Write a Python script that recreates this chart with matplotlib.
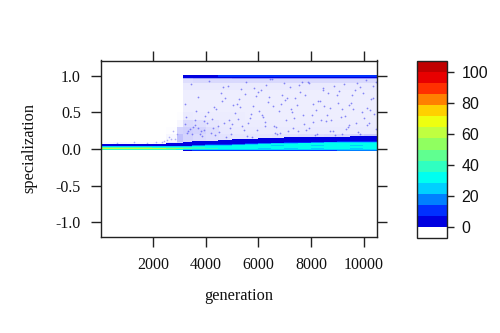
import matplotlib
matplotlib.use("Agg")
import matplotlib.pyplot as plt
import numpy as np
from matplotlib.colors import ListedColormap, BoundaryNorm, LinearSegmentedColormap

generation_edges = [10, 500, 1000, 1500, 2000, 2500, 2900, 3140, 3500, 4000, 4500, 5000,
                    5500, 6000, 6500, 7000, 7500, 8000, 8500, 9000, 9500, 10000, 10500]
band_edges = [-0.01364, 0.0, 0.01364, 0.02727, 0.04091, 0.05455, 0.06818, 0.08182, 0.09545, 0.10909,
              0.12273, 0.13636, 0.15, 0.16364, 0.17727, 0.19091]
# counts per generation bin, bottom row first
band_counts = [
    [0, 0, 0, 0, 0, 0, 0, 6, 8, 9, 10, 12, 12, 13, 13, 14, 14, 14, 14, 15, 15, 15],
    [38, 38, 38, 38, 36, 36, 34, 26, 24, 24, 24, 24, 24, 24, 24, 24, 24, 24, 24, 24, 24, 24],
    [62, 64, 62, 64, 60, 56, 54, 46, 40, 36, 34, 30, 30, 27, 30, 27, 30, 27, 30, 30, 27, 30],
    [44, 44, 44, 44, 42, 40, 40, 38, 36, 34, 33, 33, 33, 30, 33, 33, 30, 33, 33, 30, 33, 33],
    [28, 28, 28, 28, 28, 26, 26, 28, 30, 31, 31, 32, 32, 33, 33, 30, 33, 33, 33, 30, 33, 33],
    [4, 4, 4, 4, 3, 4, 4, 6, 18, 24, 27, 29, 30, 31, 27, 32, 32, 27, 32, 33, 27, 33],
    [0, 0, 0, 0, 0, 1, 3, 3, 4, 9, 14, 20, 26, 29, 30, 30, 29, 31, 32, 29, 32, 32],
    [0, 0, 0, 0, 0, 0, 0, 1, 3, 3, 4, 6, 10, 18, 24, 28, 29, 29, 30, 30, 30, 30],
    [0, 0, 0, 0, 0, 0, 0, 0, 1, 3, 3, 4, 4, 5, 7, 9, 14, 18, 22, 24, 26, 28],
    [0, 0, 0, 0, 0, 0, 0, 0, 0, 0, 2, 3, 3, 4, 4, 5, 5, 6, 6, 8, 8, 9],
    [0, 0, 0, 0, 0, 0, 0, 0, 0, 0, 0, 1, 2, 3, 3, 4, 4, 4, 5, 5, 5, 6],
    [0, 0, 0, 0, 0, 0, 0, 0, 0, 0, 0, 0, 0, 1, 2, 2, 3, 3, 3, 4, 4, 4],
    [0, 0, 0, 0, 0, 0, 0, 0, 0, 0, 0, 0, 0, 0, 0, 1, 1, 2, 2, 3, 3, 3],
    [0, 0, 0, 0, 0, 0, 0, 0, 0, 0, 0, 0, 0, 0, 0, 0, 0, 0, 0, 0, 1, 1],
    [0, 0, 0, 0, 0, 0, 0, 0, 0, 0, 0, 0, 0, 0, 0, 0, 0, 0, 0, 0, 0, 0],
]
top_edges = [0.97, 0.98364, 0.99727]
# counts around specialization 1.0 from generation 3140 on
top_counts = [
    [0, 0, 0, 0, 0, 0, 0, 3, 3, 3, 3, 3, 4, 3, 3, 4, 3, 3, 4, 3, 3, 4],
    [0, 0, 0, 0, 0, 0, 0, 4, 6, 7, 8, 8, 8, 8, 9, 9, 9, 9, 9, 9, 9, 9],
]
cloud_edges = [0.05, 0.1, 0.2, 0.3, 0.4, 0.5, 0.6, 0.7, 0.8, 0.9, 0.96, 0.97]
# pale background density of the scattered cloud, bottom row first
cloud_tint = [
    [0.02, 0.04, 0.03, 0.02, 0.04, 0.12, 0.22, 0.25, 0.25, 0.25, 0.25, 0.27, 0.3, 0.3, 0.3, 0.32, 0.35, 0.35, 0.35, 0.38, 0.4, 0.4],
    [0, 0, 0, 0, 0, 0.04, 0.3, 0.2, 0.17, 0.15, 0.13, 0.12, 0.12, 0.12, 0.13, 0.14, 0.15, 0.16, 0.17, 0.18, 0.2, 0.24],
    [0, 0, 0, 0, 0, 0.01, 0.2, 0.22, 0.2, 0.16, 0.11, 0.1, 0.1, 0.1, 0.1, 0.1, 0.1, 0.1, 0.1, 0.1, 0.1, 0.1],
    [0, 0, 0, 0, 0, 0, 0.04, 0.17, 0.15, 0.12, 0.1, 0.09, 0.09, 0.09, 0.09, 0.09, 0.09, 0.09, 0.09, 0.09, 0.09, 0.09],
    [0, 0, 0, 0, 0, 0, 0.01, 0.1, 0.09, 0.09, 0.09, 0.09, 0.08, 0.08, 0.08, 0.08, 0.08, 0.08, 0.08, 0.08, 0.08, 0.08],
    [0, 0, 0, 0, 0, 0, 0, 0.08, 0.08, 0.08, 0.08, 0.08, 0.08, 0.08, 0.08, 0.08, 0.08, 0.08, 0.08, 0.08, 0.08, 0.08],
    [0, 0, 0, 0, 0, 0, 0, 0.08, 0.08, 0.08, 0.08, 0.08, 0.08, 0.08, 0.08, 0.08, 0.08, 0.08, 0.08, 0.08, 0.08, 0.08],
    [0, 0, 0, 0, 0, 0, 0, 0.08, 0.08, 0.08, 0.08, 0.08, 0.08, 0.08, 0.08, 0.08, 0.08, 0.08, 0.08, 0.08, 0.08, 0.08],
    [0, 0, 0, 0, 0, 0, 0, 0.1, 0.1, 0.1, 0.1, 0.1, 0.1, 0.1, 0.1, 0.1, 0.1, 0.1, 0.1, 0.1, 0.1, 0.1],
    [0, 0, 0, 0, 0, 0, 0, 0.16, 0.18, 0.18, 0.18, 0.18, 0.18, 0.18, 0.18, 0.18, 0.18, 0.18, 0.18, 0.18, 0.18, 0.18],
    [0, 0, 0, 0, 0, 0, 0, 0.4, 0.45, 0.45, 0.45, 0.5, 0.5, 0.5, 0.5, 0.5, 0.5, 0.5, 0.5, 0.5, 0.5, 0.5],
]
speck_generation = [3200, 3340, 3460, 3580, 3710, 3860, 3990, 4130, 4260, 4400, 4570, 4690, 4840, 4970, 5120,
                    5260, 5390, 5530, 5680, 5800, 5960, 6080, 6230, 6350, 6510, 6640, 6780, 6910, 7050, 7190,
                    7310, 7470, 7590, 7740, 7860, 8010, 8150, 8270, 8430, 8550, 8700, 8820, 8980, 9110, 9240,
                    9390, 9510, 9660, 9780, 9930, 10070, 10190, 10340, 10440,
                    3270, 3520, 3780, 4040, 4310, 4620, 4910, 5210, 5470, 5740, 6020, 6290, 6570, 6840, 7120,
                    7400, 7670, 7930, 8210, 8490, 8760, 9050, 9320, 9590, 9860, 10130, 10390,
                    3410, 3640, 3920, 4190, 4480, 4760, 5050, 5330, 5610, 5890, 6160, 6440, 6710, 6990, 7260,
                    7540, 7810, 8080, 8360, 8630, 8900, 9180, 9450, 9720, 10000, 10270,
                    3230, 3490, 3690, 3950, 4220, 4510, 4730, 5010, 5290, 5570, 5840, 6120, 6390, 6670, 6950,
                    7230, 7500, 7770, 8050, 8320, 8600, 8870, 9150, 9420, 9700, 9970, 10240, 10450,
                    3300, 3600, 3830, 4090, 4350, 4650, 4880, 5170, 5440, 5710, 5990, 6260, 6540, 6810, 7090,
                    7360, 7640, 7900, 8180, 8460, 8730, 9010, 9280, 9560, 9830, 10110, 10360]
speck_spec = [0.62, 0.24, 0.88, 0.33, 0.71, 0.18, 0.45, 0.93, 0.28, 0.55, 0.77, 0.36, 0.86, 0.21, 0.49,
              0.68, 0.31, 0.91, 0.42, 0.59, 0.26, 0.8, 0.37, 0.64, 0.95, 0.22, 0.52, 0.73, 0.4, 0.85,
              0.29, 0.6, 0.78, 0.34, 0.92, 0.47, 0.19, 0.66, 0.83, 0.38, 0.56, 0.25, 0.74, 0.44, 0.89,
              0.3, 0.63, 0.81, 0.23, 0.51, 0.94, 0.35, 0.7, 0.27,
              0.43, 0.3, 0.2, 0.36, 0.57, 0.65, 0.28, 0.41, 0.75, 0.16, 0.52, 0.87, 0.32, 0.61, 0.24,
              0.69, 0.46, 0.9, 0.21, 0.58, 0.39, 0.79, 0.27, 0.54, 0.84, 0.33, 0.48,
              0.27, 0.52, 0.38, 0.22, 0.31, 0.17, 0.6, 0.82, 0.35, 0.72, 0.43, 0.96, 0.2, 0.67, 0.5,
              0.87, 0.26, 0.62, 0.4, 0.76, 0.19, 0.55, 0.33, 0.9, 0.42, 0.68,
              0.34, 0.2, 0.29, 0.26, 0.41, 0.23, 0.69, 0.34, 0.57, 0.18, 0.83, 0.46, 0.71, 0.3, 0.9,
              0.55, 0.24, 0.74, 0.37, 0.65, 0.47, 0.86, 0.21, 0.6, 0.36, 0.76, 0.53, 0.92,
              0.22, 0.4, 0.25, 0.5, 0.19, 0.84, 0.39, 0.62, 0.26, 0.48, 0.78, 0.31, 0.58, 0.22, 0.7,
              0.42, 0.92, 0.28, 0.53, 0.81, 0.24, 0.63, 0.45, 0.73, 0.2, 0.56, 0.86]
pre_speck_generation = [640, 1290, 1780, 2130, 2420, 2610, 2760, 2690, 2840, 2920, 2550, 2330]
pre_speck_spec = [0.08, 0.09, 0.08, 0.1, 0.11, 0.17, 0.24, 0.13, 0.14, 0.2, 0.12, 0.09]

level_edges = [-7.14, 0, 7.14, 14.29, 21.43, 28.57, 35.71, 42.86, 50, 57.14, 64.29,
               71.43, 78.57, 85.71, 92.86, 100, 107.14]
level_colors = ["#FFFFFF", "#0000E0", "#0030FF", "#0080FF", "#00D0FF", "#00FFF0", "#30FFC0", "#60FF90",
                "#90FF60", "#C0FF40", "#EEFF10", "#FFD000", "#FF8000", "#FF3000", "#E80000", "#C00000"]
x_ticks = [2000, 4000, 6000, 8000, 10000]
y_ticks = [-1.0, -0.5, 0.0, 0.5, 1.0]
y_labels = ["-1.0", "-0.5", "0.0", "0.5", "1.0"]
bar_ticks = [0, 20, 40, 60, 80, 100]

W, H = 500, 333
DARK = "#222222"
SERIF = "Liberation Serif"
SANS = "Liberation Sans"
fig = plt.figure(figsize=(W / 100, H / 100), dpi=100)


def box(x0, y0, x1, y1):
    return [x0 / W, 1 - y1 / H, (x1 - x0) / W, (y1 - y0) / H]


ax = fig.add_axes(box(100.5, 60.5, 377, 237))
cmap = ListedColormap(level_colors)
norm = BoundaryNorm(level_edges, cmap.N)
tint = LinearSegmentedColormap.from_list("tint", ["#FFFFFF", "#2A2AF5"])

ax.pcolormesh(generation_edges, cloud_edges, np.array(cloud_tint), cmap=tint, vmin=0, vmax=1, linewidth=0)
ax.scatter(speck_generation, speck_spec, s=1.6, color="#4040F0", alpha=0.6, linewidths=0)
ax.scatter(pre_speck_generation, pre_speck_spec, s=1.4, color="#8080F0", alpha=0.6, linewidths=0)
for edges, counts in ((band_edges, band_counts), (top_edges, top_counts)):
    data = np.ma.masked_equal(np.array(counts, dtype=float), 0)
    mesh = ax.pcolor(generation_edges, edges, data, cmap=cmap, norm=norm, linewidth=0, antialiased=False,
                     edgecolors="none", snap=False)

ax.set_xlim(10, 10493)
ax.set_ylim(-1.2, 1.207)
ax.set_xticks(x_ticks)
ax.set_yticks(y_ticks)
ax.set_yticklabels(y_labels)
ax.tick_params(top=True, right=True, length=7.2, width=1.0, color=DARK, pad=7, labelsize=11.5,
               labelcolor="#111111", labelfontfamily=SERIF)
for s in ax.spines.values():
    s.set_linewidth(1.0)
    s.set_color(DARK)
fig.text(239 / W, 1 - 296 / H, "generation", family=SERIF, fontsize=11.8, ha="center", va="center", color="#111111")
fig.text(29 / W, 1 - 148 / H, "specialization", family=SERIF, fontsize=11.8, ha="center", va="center",
         rotation=90, color="#111111")

cax = fig.add_axes(box(417, 61, 446.7, 238))
cb = fig.colorbar(mesh, cax=cax, spacing="proportional", drawedges=False, ticks=bar_ticks)
cb.ax.set_ylim(-7.14, 107.14)
cb.set_ticks(bar_ticks)
cb.ax.minorticks_off()
cb.ax.tick_params(length=4.8, width=1.0, color=DARK, pad=6, labelsize=11.5, labelcolor="#111111",
                  labelfontfamily=SANS)
cb.outline.set_linewidth(1.0)
cb.outline.set_edgecolor(DARK)

fig.savefig("out.png", dpi=100)
